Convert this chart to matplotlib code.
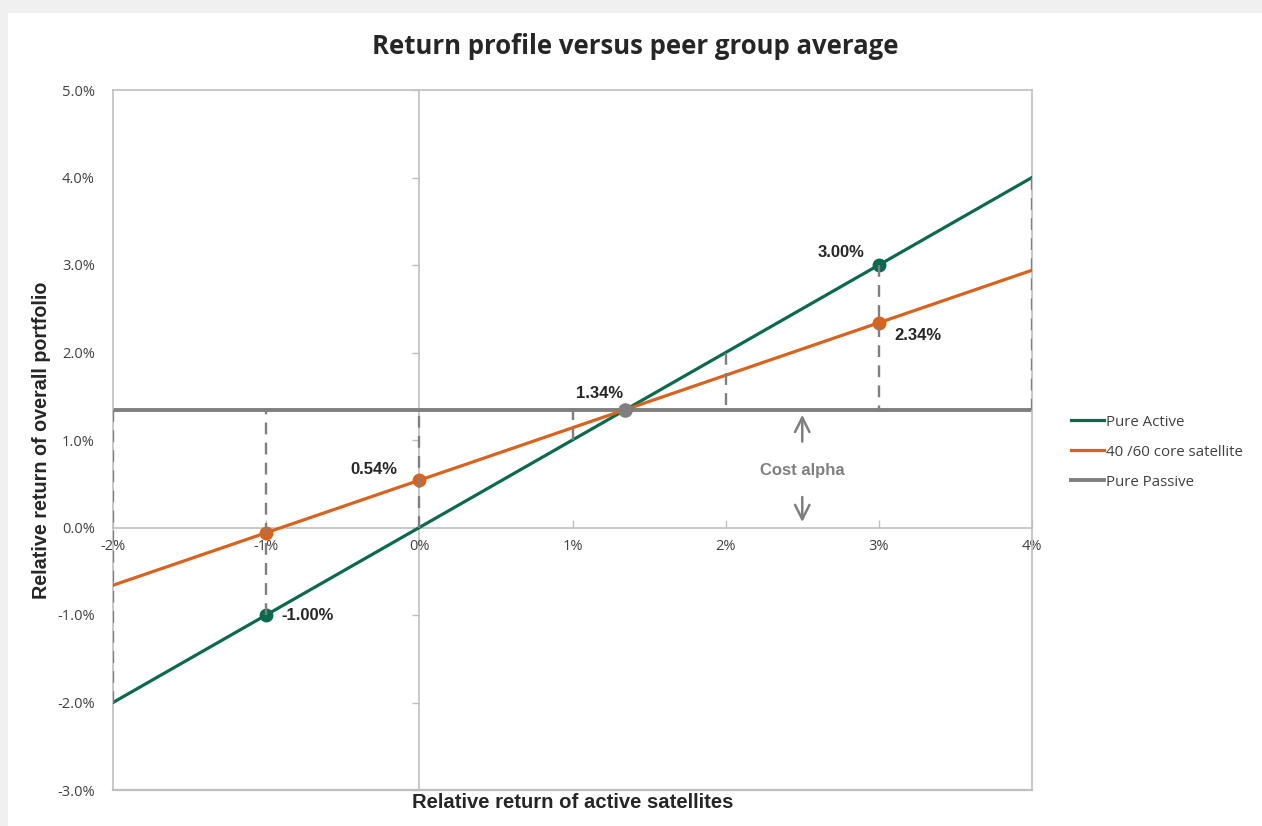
import numpy as np
import matplotlib.pyplot as plt
from matplotlib.markers import TICKLEFT
from matplotlib.patches import Rectangle

# data (in %)
x_range = [-2, -1, 0, 1, 2, 3, 4]
active = [-2.0, -1.0, 0.0, 1.0, 2.0, 3.0, 4.0]
core_sat = [-0.66, -0.06, 0.54, 1.14, 1.74, 2.34, 2.94]
passive_level = 1.34

active_pts_x = [-1, 3]
active_pts_y = [-1.00, 3.00]
core_pts_x = [-1, 0, 3]
core_pts_y = [-0.06, 0.54, 2.34]
passive_pt = (1.34, 1.34)

labels = [("-1.00%", -1, -1.00, (11, 0), 'left'),
          ("0.54%", 0, 0.54, (-16, 8), 'right'),
          ("1.34%", 1.34, 1.34, (-18, 12), 'center'),
          ("3.00%", 3, 3.00, (-10, 9), 'right'),
          ("2.34%", 3, 2.34, (11, -9), 'left')]

x_ticks = [-2, -1, 0, 1, 2, 3, 4]
y_ticks = [-3, -2, -1, 0, 1, 2, 3, 4, 5]

green = '#0B6A4E'
orange = '#D9621F'
gray = '#7F7F7F'
axis_gray = '#BFBFBF'

fig = plt.figure(figsize=(12.62, 8.26), dpi=100, facecolor='#F0F0F0')
fig.patches.append(Rectangle((8/1262, 0), 1, 1 - 13/826, transform=fig.transFigure,
                             facecolor='white', edgecolor='none', zorder=-10))
ax = fig.add_axes([113/1262, 1 - 790/826, (1032-113)/1262, 700/826])
ax.set_facecolor('white')

ax.set_xlim(-2, 4)
ax.set_ylim(-3, 5)

# dashed connectors between active and passive
for xv, yv in zip(x_range, active):
    ax.plot([xv, xv], [yv, passive_level], color=gray, lw=1.7, ls=(0, (5, 3.5)), zorder=4)

ax.plot(x_range, active, color=green, lw=2.3, label='Pure Active', zorder=3)
ax.plot(x_range, core_sat, color=orange, lw=2.3, label='40 /60 core satellite', zorder=3)
ax.plot([x_range[0], x_range[-1]], [passive_level, passive_level], color=gray, lw=2.8,
        label='Pure Passive', zorder=2)

ax.plot(active_pts_x, active_pts_y, 'o', color=green, ms=9, zorder=3.5)
ax.plot(core_pts_x, core_pts_y, 'o', color=orange, ms=9, zorder=3.5)
ax.plot([passive_pt[0]], [passive_pt[1]], 'o', color=gray, ms=9.5, zorder=5)

for txt, xv, yv, off, ha in labels:
    ax.annotate(txt, (xv, yv), xytext=off, textcoords='offset points', ha=ha, va='center',
                fontsize=12, fontweight='bold', color='#262626', family='Liberation Sans')

# cost alpha
ax.text(2.5, 0.65, 'Cost alpha', ha='center', va='center', fontsize=12,
        fontweight='bold', color=gray, family='Liberation Sans')
ax.annotate('', xy=(2.5, 1.32), xytext=(2.5, 0.95),
            arrowprops=dict(arrowstyle='->', color=gray, lw=1.8, mutation_scale=26))
ax.annotate('', xy=(2.5, 0.03), xytext=(2.5, 0.38),
            arrowprops=dict(arrowstyle='->', color=gray, lw=1.8, mutation_scale=26))

# axes styling
for s in ['left', 'right', 'top']:
    ax.spines[s].set_color(axis_gray)
    ax.spines[s].set_linewidth(1.2)
ax.spines['bottom'].set_position(('data', 0))
ax.spines['bottom'].set_color(axis_gray)
ax.spines['bottom'].set_linewidth(1.2)
ax.axhline(-3, color=axis_gray, lw=1.6, clip_on=False, zorder=1)
ax.axvline(0, color=axis_gray, lw=1.2, zorder=1)
ax.plot([0] * len(y_ticks), y_ticks, ls='none', marker=TICKLEFT, ms=5,
        mew=1, color=axis_gray, clip_on=False, zorder=1)

ax.set_xticks(x_ticks)
ax.set_xticklabels([f'{v}%' for v in x_ticks])
ax.set_yticks(y_ticks)
ax.set_yticklabels([f'{v:.1f}%' for v in y_ticks])
ax.tick_params(axis='x', direction='in', length=6, width=1, color=axis_gray, pad=8,
               labelsize=10.5, labelcolor='#404040')
ax.tick_params(axis='y', length=0, pad=13, labelsize=10.5, labelcolor='#404040')
for lab in ax.get_xticklabels() + ax.get_yticklabels():
    lab.set_family('Open Sans')

ax.set_xlabel('Relative return of active satellites', fontsize=14.6, fontweight='bold',
              family='Liberation Sans', color='#262626')
ax.xaxis.set_label_coords(0.5, -0.004)
ax.xaxis.label.set_va('top')
ax.set_ylabel('Relative return of overall portfolio', fontsize=14.2, fontweight='bold',
              family='Liberation Sans', color='#262626')
ax.yaxis.set_label_coords(-0.067, 0.5)

fig.text(635/1262, 1 - 46/826, 'Return profile versus peer group average', ha='center',
         va='center', fontsize=18.5, fontweight='bold', family='Open Sans', color='#262626')

leg = ax.legend(loc='center left', bbox_to_anchor=(1057/1262, 1 - 452/826),
                bbox_transform=fig.transFigure, frameon=False, handlelength=2.2,
                handletextpad=0.15, labelspacing=1.0, prop={'family': 'Open Sans', 'size': 10.8})
for t in leg.get_texts():
    t.set_color('#404040')

fig.savefig('out.png', dpi=100, facecolor=fig.get_facecolor())
